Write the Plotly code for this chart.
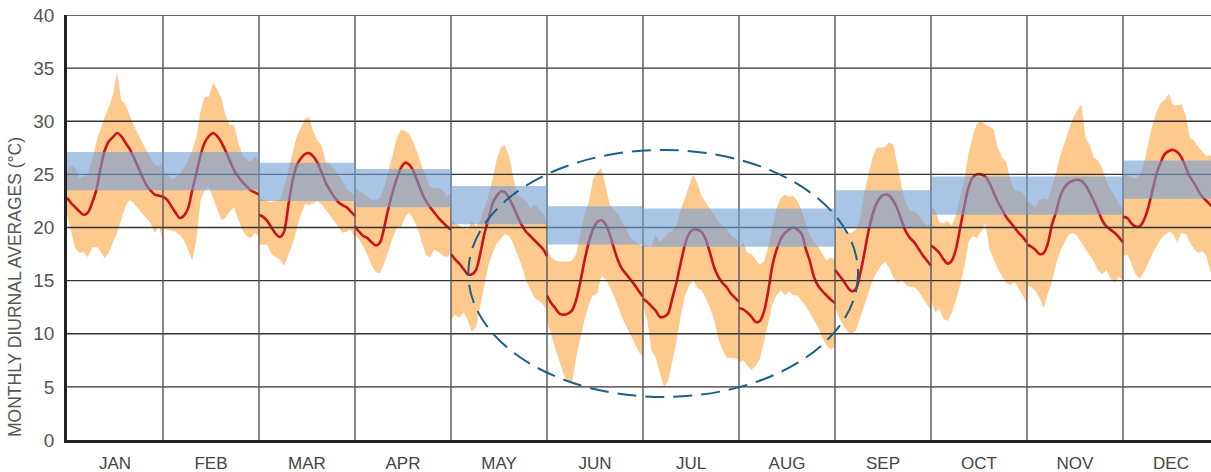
import plotly.graph_objects as go

months = ["JAN", "FEB", "MAR", "APR", "MAY", "JUN", "JUL", "AUG", "SEP", "OCT", "NOV", "DEC"]

# hourly (0-23) monthly diurnal averages, degC
avg_temp = [
    [22.8,22.3,21.9,21.5,21.2,21.4,22.3,23.5,25.5,27.2,28.1,28.5,28.9,28.6,28.0,27.4,26.6,25.7,24.8,24.0,23.5,23.1,23.0,22.9],
    [22.9,22.6,22.0,21.4,20.9,21.1,21.8,23.5,25.1,26.8,28.0,28.6,28.9,28.6,28.0,27.2,26.3,25.4,24.8,24.3,23.9,23.5,23.3,23.1],
    [21.2,21.0,20.6,20.0,19.4,19.1,19.6,22.0,24.3,25.8,26.5,26.9,27.0,26.7,26.1,25.2,24.2,23.5,22.9,22.4,22.1,21.9,21.5,21.1],
    [20.1,19.6,19.2,19.0,18.6,18.3,18.6,20.0,21.8,23.3,24.6,25.6,26.1,25.9,25.3,24.3,23.3,22.5,21.9,21.4,20.9,20.5,20.1,19.8],
    [17.5,17.0,16.6,16.1,15.6,15.6,16.0,17.5,19.4,20.8,22.3,23.0,23.4,23.3,22.7,21.9,21.0,20.2,19.6,19.2,18.8,18.4,18.0,17.3],
    [13.6,12.9,12.4,11.9,11.8,11.9,12.2,13.2,14.9,16.9,18.6,19.8,20.5,20.7,20.3,19.4,18.1,16.9,16.1,15.6,15.1,14.6,14.0,13.5],
    [13.3,13.0,12.6,12.2,11.6,11.6,11.9,13.3,14.8,16.6,18.3,19.4,19.8,19.8,19.6,18.9,17.7,16.3,15.4,14.8,14.4,13.8,13.4,13.0],
    [12.4,12.3,12.0,11.6,11.1,11.2,12.1,14.0,16.4,17.9,18.9,19.5,19.8,20.0,19.8,19.4,18.0,16.8,15.3,14.5,14.0,13.6,13.2,12.9],
    [16.0,15.5,15.0,14.4,14.0,14.2,15.6,17.5,19.6,21.2,22.3,22.9,23.1,23.0,22.5,21.7,20.6,19.6,19.0,18.6,18.0,17.4,16.9,16.4],
    [18.3,18.0,17.6,17.0,16.6,16.9,18.0,20.0,22.0,23.8,24.7,25.0,25.0,24.8,24.2,23.3,22.4,21.7,21.0,20.5,20.0,19.5,19.1,18.6],
    [18.4,18.2,17.9,17.5,17.6,18.5,20.3,21.5,23.0,23.8,24.2,24.4,24.5,24.4,24.0,23.3,22.5,21.6,20.7,20.1,19.8,19.5,19.1,18.6],
    [21.0,20.9,20.4,20.1,20.1,20.7,21.8,23.4,25.0,26.1,26.9,27.2,27.3,27.1,26.6,25.7,24.8,24.2,23.5,22.9,22.5,22.1,21.9,21.7],
]

max_temp = [
    [25.3,25.8,25.6,24.6,24.8,25.0,26.3,28.0,29.2,30.4,31.3,32.5,34.6,32.0,31.6,30.6,29.6,28.8,28.0,27.3,26.6,25.9,25.8,26.2],
    [25.2,25.1,24.5,24.7,25.0,25.6,26.3,27.2,28.5,31.0,32.3,32.3,33.6,33.0,32.2,30.5,29.6,29.7,28.0,26.8,26.4,26.2,26.7,26.2],
    [22.9,22.6,22.5,22.4,22.5,22.6,23.8,25.3,27.0,28.5,29.4,30.2,30.4,29.0,28.2,27.7,26.2,25.9,25.5,25.0,24.4,23.6,23.3,23.0],
    [23.9,23.4,23.2,22.9,22.6,22.6,22.8,23.8,25.2,26.8,28.4,29.2,29.1,28.8,28.0,27.0,25.8,24.8,23.8,23.7,23.7,23.5,22.9,23.2],
    [20.8,20.4,20.2,20.0,19.8,20.6,20.1,20.6,21.8,23.0,24.6,26.5,27.6,27.7,26.6,24.6,23.0,22.8,22.5,21.8,22.2,21.8,21.4,20.6],
    [18.0,17.2,16.9,16.8,16.8,16.8,16.9,17.5,19.4,21.3,22.3,24.5,25.2,25.6,24.0,22.2,21.7,21.3,20.5,19.8,19.1,18.7,18.5,18.2],
    [18.4,18.3,18.2,19.3,18.6,19.0,19.5,19.7,20.2,21.6,22.8,24.0,25.0,24.2,23.0,22.4,21.8,21.2,20.6,20.2,19.9,19.3,19.0,18.8],
    [18.0,18.6,17.6,17.5,17.0,16.5,16.8,18.2,20.0,21.8,22.8,23.1,22.9,23.0,22.5,21.6,20.4,19.2,18.6,18.2,17.5,16.9,17.2,16.9],
    [19.7,20.0,19.8,19.5,19.5,19.8,20.8,23.2,25.0,26.6,27.5,27.5,27.6,28.0,27.8,25.8,23.8,22.2,21.6,21.5,21.2,20.6,20.2,20.4],
    [22.1,21.6,20.5,20.4,20.6,20.2,21.2,22.8,24.5,27.0,28.6,29.8,30.0,29.7,29.5,29.2,27.5,26.6,26.2,24.5,23.5,23.4,23.3,22.6],
    [22.5,22.2,21.9,22.6,22.7,22.6,23.8,25.2,26.8,28.0,29.3,30.3,31.0,31.6,28.5,27.8,26.6,26.3,25.6,24.4,23.6,23.0,22.3,21.6],
    [24.8,25.1,24.7,24.6,24.9,26.0,27.8,29.6,30.8,31.7,32.0,32.6,31.5,31.5,31.6,30.6,28.5,28.2,27.6,27.1,26.7,26.8,26.9,26.8],
]

min_temp = [
    [21.2,19.6,18.0,17.6,17.7,17.2,18.1,18.2,17.8,17.1,17.6,18.6,19.5,20.8,22.0,22.6,22.3,21.8,21.3,20.9,20.4,19.5,20.1,18.9],
    [19.9,19.8,19.7,19.6,19.3,18.8,17.9,16.9,18.8,22.6,23.5,23.8,22.8,21.8,20.7,20.9,21.5,21.9,20.8,19.8,19.2,19.0,19.5,19.2],
    [18.4,18.4,18.3,17.5,17.2,17.0,16.4,17.4,18.4,19.8,21.2,22.2,22.1,22.3,22.5,22.2,21.6,21.1,20.6,20.1,19.5,19.6,19.8,19.0],
    [19.3,18.9,18.2,17.4,16.4,15.8,15.7,16.6,17.8,19.0,20.0,20.0,21.0,21.4,20.8,19.9,18.6,17.4,17.2,17.9,17.7,17.4,17.2,17.7],
    [11.4,11.8,11.5,12.0,11.3,10.2,10.6,12.6,14.6,16.5,17.7,18.5,19.0,19.4,19.2,18.4,17.4,16.3,15.0,14.2,13.4,13.1,12.8,12.2],
    [11.2,9.9,8.6,7.3,6.2,5.5,5.4,7.8,9.6,11.4,12.7,13.6,13.8,15.4,15.2,14.4,13.6,12.6,11.5,10.6,9.8,9.1,8.3,7.8],
    [12.6,11.3,8.5,7.8,6.5,5.0,5.5,7.2,9.2,11.6,13.5,14.5,15.1,14.3,14.1,13.4,12.5,11.4,9.6,8.5,7.8,7.7,7.7,7.5],
    [7.3,7.5,7.0,6.6,7.0,7.6,9.2,11.0,12.8,13.6,14.1,13.6,14.0,13.6,13.6,13.1,12.6,12.0,11.3,10.6,9.6,8.9,8.5,8.8],
    [12.5,11.5,10.8,10.2,10.0,10.3,11.6,12.8,13.8,15.0,15.8,16.4,16.8,16.2,15.3,14.8,15.1,14.6,14.4,14.4,14.0,13.4,12.8,12.2],
    [13.2,12.0,12.4,11.4,11.2,12.0,13.2,14.6,16.4,18.6,19.2,19.0,19.6,20.4,18.0,17.0,16.2,15.4,14.8,14.6,14.9,14.3,13.6,12.8],
    [14.6,14.4,14.0,13.4,12.4,13.8,15.0,16.6,17.8,18.6,19.3,19.5,19.2,18.6,18.0,17.4,16.8,16.0,15.6,16.0,15.2,14.8,15.4,15.0],
    [17.3,17.5,16.6,15.6,15.2,15.8,16.6,17.5,18.2,18.9,19.3,19.6,19.4,18.6,19.5,19.4,18.6,18.0,17.6,17.8,17.3,15.8,15.8,15.9],
]

# comfort band per month
comfort_low = [23.5, 23.5, 22.5, 21.9, 20.3, 18.4, 18.2, 18.2, 20.0, 21.2, 21.2, 22.7]
comfort_high = [27.1, 27.1, 26.1, 25.5, 23.9, 22.0, 21.8, 21.8, 23.5, 24.8, 24.8, 26.3]

y_ticks = [0, 5, 10, 15, 20, 25, 30, 35, 40]

ORANGE = "#fdc98d"
RED = "#c8141a"
BLUE = "rgba(113,157,213,0.6)"
FONT = "Liberation Sans, Arial, sans-serif"

fig = go.Figure()

line_x, line_y = [], []
for m in range(12):
    xs = [m + h / 23 for h in range(24)]
    fig.add_trace(go.Scatter(
        x=xs + xs[::-1], y=max_temp[m] + min_temp[m][::-1],
        fill="toself", fillcolor=ORANGE, line=dict(width=0),
        mode="lines", hoverinfo="skip", showlegend=False))
    line_x += xs + [None]
    line_y += avg_temp[m] + [None]

fig.add_trace(go.Scatter(
    x=line_x, y=line_y, mode="lines",
    line=dict(color=RED, width=2.6, shape="spline", smoothing=0.8),
    showlegend=False, connectgaps=False))

x_max = 1144 / 96
shapes = []
# gridlines (above the orange fill)
for v in y_ticks[1:]:
    shapes.append(dict(type="line", xref="x", yref="y", x0=0, x1=x_max, y0=v, y1=v,
                       line=dict(color="#333333", width=1.3), layer="above"))
for m in range(1, 12):
    shapes.append(dict(type="line", xref="x", yref="y", x0=m, x1=m, y0=0, y1=40,
                       line=dict(color="#555555", width=1.4), layer="above"))
# comfort bands
for m in range(12):
    shapes.append(dict(type="rect", xref="x", yref="y", x0=m, x1=m + 1,
                       y0=comfort_low[m], y1=comfort_high[m],
                       fillcolor=BLUE, line=dict(width=0), layer="above"))
# highlighted summer period
shapes.append(dict(type="circle", xref="x", yref="y", x0=4.18, x1=8.24, y0=4.05, y1=27.3,
                   line=dict(color="#1a6088", width=2, dash="19px,9px"), layer="above"))

fig.update_layout(
    width=1211, height=472,
    margin=dict(l=67, r=0, t=15, b=32),
    paper_bgcolor="white", plot_bgcolor="white",
    shapes=shapes,
    font=dict(family=FONT, color="#555555"),
    xaxis=dict(range=[0, x_max], showgrid=False, zeroline=False,
               tickvals=[m + 0.5 for m in range(12)], ticktext=months,
               tickfont=dict(size=17, color="#444444"), ticks="",
               ticklabelstandoff=6,
               showline=True, linecolor="#222222", linewidth=3, layer="above traces"),
    yaxis=dict(range=[0, 40], tickvals=y_ticks, showgrid=False, zeroline=False,
               tickfont=dict(size=19, color="#555555"), ticks="",
               ticklabelstandoff=6,
               showline=True, linecolor="#222222", linewidth=2.5, layer="above traces"),
    annotations=[dict(text="MONTHLY DIURNAL AVERAGES (°C)", textangle=-90,
                      xref="paper", yref="paper", x=(15 - 67) / 1144, y=(440 - 287) / 425,
                      xanchor="center", yanchor="middle", showarrow=False,
                      font=dict(size=17.5, color="#555555", family=FONT))],
)

fig.write_html("out.html", config={"displayModeBar": False},
               post_script="document.body.style.margin='0px';")
